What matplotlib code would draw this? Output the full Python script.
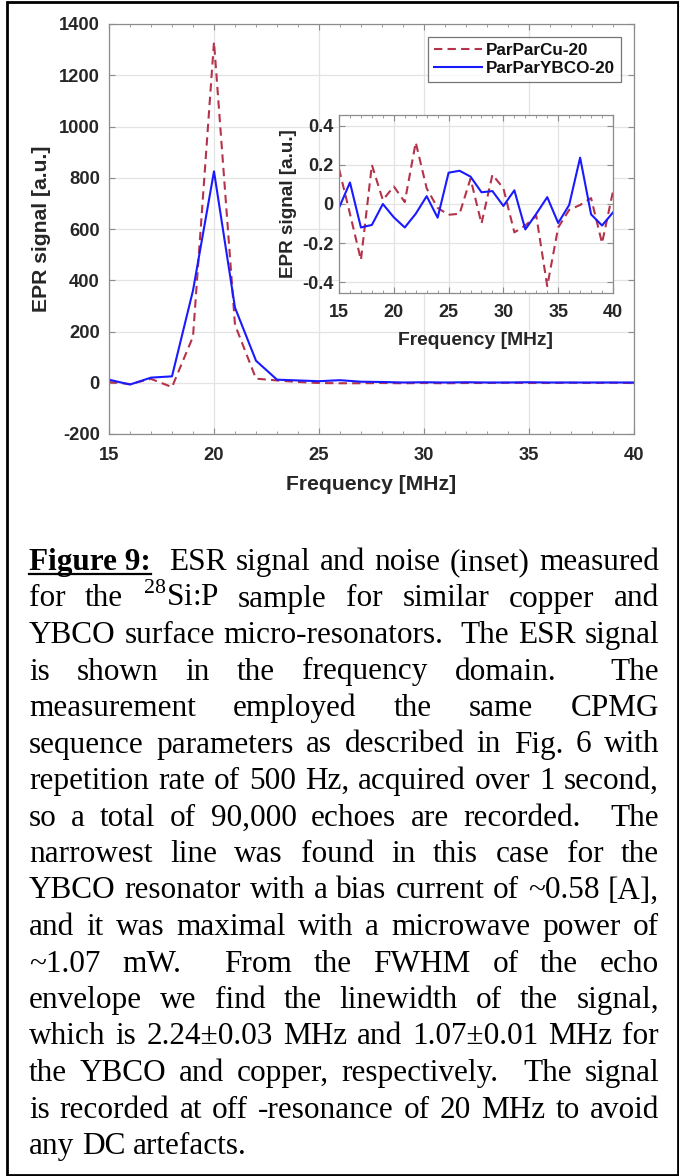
import matplotlib
matplotlib.use('Agg')
import matplotlib.pyplot as plt
import matplotlib.transforms as mtransforms
from matplotlib.lines import Line2D
from matplotlib.patches import Rectangle
from matplotlib.ticker import MultipleLocator
import numpy as np

plt.rcParams['font.family'] = ['Liberation Sans', 'DejaVu Sans']
plt.rcParams['axes.unicode_minus'] = False
plt.rcParams['mathtext.fontset'] = 'custom'
plt.rcParams['mathtext.rm'] = 'Liberation Serif'

# spectra (main panel)
freq = [15, 16, 17, 18, 19, 20, 21, 22, 23, 24, 25, 26, 27,
        28, 29, 30, 31, 32, 33, 34, 35, 36, 37, 38, 39, 40]
cu_signal = [3, -5, 15, -17, 180, 1330, 226, 16, 9, 3, -1, -2, -2,
             -1, -2, -1, -2, -1, -1, 0, -1, -1, 0, -1, 0, -1]
ybco_signal = [12, -7, 20, 25, 360, 825, 293, 86, 12, 9, 6, 10, 4,
               3, 1, 2, 1, 2, 1, 1, 2, 1, 1, 1, 1, 1]

# noise (inset)
cu_noise = [0.18, -0.05, -0.286, 0.20, 0.02, 0.09, 0.01, 0.315, 0.08, -0.02,
            -0.055, -0.05, 0.13, -0.10, 0.15, 0.08, -0.145, -0.11, -0.06, -0.42,
            -0.12, -0.03, -0.005, 0.03, -0.20, 0.065]
ybco_noise = [-0.02, 0.11, -0.12, -0.107, 0.0, -0.068, -0.12, -0.05, 0.04, -0.07,
              0.16, 0.17, 0.14, 0.06, 0.066, -0.01, 0.07, -0.13, -0.05, 0.035,
              -0.097, -0.005, 0.237, -0.053, -0.11, -0.043]

labels = ['ParParCu-20', 'ParParYBCO-20']

caption_head = 'Figure\u00a09:'
caption_lines = [
    caption_head + '  ESR signal and noise (inset) measured',
    'for the $^{\\mathrm{28}}$Si:P sample for similar copper and',
    'YBCO surface micro-resonators.  The ESR signal',
    'is shown in the frequency domain.  The',
    'measurement employed the same CPMG',
    'sequence parameters as described in Fig. 6 with',
    'repetition rate of 500 Hz, acquired over 1 second,',
    'so a total of 90,000 echoes are recorded.  The',
    'narrowest line was found in this case for the',
    'YBCO resonator with a bias current of ~0.58 [A],',
    'and it was maximal with a microwave power of',
    '~1.07 mW.  From the FWHM of the echo',
    'envelope we find the linewidth of the signal,',
    'which is 2.24\u00b10.03 MHz and 1.07\u00b10.01 MHz for',
    'the YBCO and copper, respectively.  The signal',
    'is recorded at off -resonance of 20 MHz to avoid',
    'any DC artefacts.',
]

W, H = 679, 1176
fig = plt.figure(figsize=(W / 100, H / 100), dpi=100)

cu_color = '#b5334a'
ybco_color = '#1a1aff'
spine_color = '#8c8c8c'
text_color = '#262626'
grid_color = '#e3e3e3'


def style_axes(ax, tick_size, xpad, ypad):
    for s in ax.spines.values():
        s.set_color(spine_color)
        s.set_linewidth(0.9)
    ax.xaxis.set_minor_locator(MultipleLocator(1))
    ax.tick_params(which='both', direction='in', top=True, right=True,
                   color=spine_color, labelcolor=text_color, labelsize=tick_size)
    ax.tick_params(which='major', length=4)
    ax.tick_params(which='minor', length=2.5)
    ax.tick_params(axis='x', pad=xpad)
    ax.tick_params(axis='y', pad=ypad)
    for lab in ax.get_xticklabels() + ax.get_yticklabels():
        lab.set_fontweight('bold')
    ax.grid(True, which='major', color=grid_color, lw=0.9)
    ax.set_axisbelow(True)


# main panel
ax = fig.add_axes([109 / W, 1 - 434 / H, 525 / W, 410 / H])
ax.plot(freq, cu_signal, color=cu_color, lw=1.5, ls=(0, (4, 2.5)), label=labels[0])
ax.plot(freq, ybco_signal, color=ybco_color, lw=1.5, label=labels[1])
ax.set_xlim(15, 40)
ax.set_ylim(-200, 1400)
ax.set_xticks([15, 20, 25, 30, 35, 40])
ax.set_yticks(np.arange(-200, 1401, 200))
style_axes(ax, 13.2, 9.5, 6.5)
ax.set_xlabel('Frequency [MHz]', fontsize=15.2, fontweight='bold', color=text_color, labelpad=8)
ax.set_ylabel('EPR signal [a.u.]', fontsize=15.2, fontweight='bold', color=text_color, labelpad=6)
leg = ax.legend(loc='upper right', fontsize=12.3, frameon=True, fancybox=False,
                handlelength=2.8, handletextpad=0.25, borderpad=0.35,
                labelspacing=0.2, borderaxespad=0.75)
leg.get_frame().set_edgecolor('#555555')
leg.get_frame().set_linewidth(0.9)
for t in leg.get_texts():
    t.set_fontweight('bold')
    t.set_color('#111111')

# inset with the noise
axi = fig.add_axes([339 / W, 1 - 293 / H, 274 / W, 178 / H])
axi.plot(freq, cu_noise, color=cu_color, lw=1.5, ls=(0, (4, 2.5)))
axi.plot(freq, ybco_noise, color=ybco_color, lw=1.5)
axi.set_xlim(15, 40)
axi.set_ylim(-0.455, 0.455)
axi.set_xticks([15, 20, 25, 30, 35, 40])
axi.set_yticks([-0.4, -0.2, 0, 0.2, 0.4])
axi.set_yticklabels(['-0.4', '-0.2', '0', '0.2', '0.4'])
style_axes(axi, 13.0, 8, 4)
axi.set_xlabel('Frequency [MHz]', fontsize=13.9, fontweight='bold', color=text_color, labelpad=8)
axi.set_ylabel('EPR signal [a.u.]', fontsize=13.6, fontweight='bold', color=text_color, labelpad=4)

# frame round the whole figure
fig.add_artist(Rectangle((7 / W, 1.5 / H), 670.5 / W, 1172.5 / H, transform=fig.transFigure,
                         fill=False, edgecolor='black', lw=2.0))

# justified caption
ident = mtransforms.IdentityTransform()
cap_size = 22.5
x_left, x_right = 29, 659
base0, line_step = 570, 36.5
fig.canvas.draw()
renderer = fig.canvas.get_renderer()
for i, line in enumerate(caption_lines):
    y = H - (base0 + i * line_step)
    tokens = line.split(' ')
    items = []
    for tok in tokens:
        if not tok:
            items.append((None, 0.0))
            continue
        bold = tok == caption_head
        t = fig.text(0, y, tok, transform=ident, fontsize=cap_size, va='baseline',
                     family=['Liberation Serif', 'DejaVu Serif'],
                     fontweight='bold' if bold else 'normal', color='black')
        items.append((t, t.get_window_extent(renderer).width))
    total = sum(w for _, w in items)
    if i == len(caption_lines) - 1:
        gap = cap_size * 100 / 72 * 0.25
    else:
        gap = (x_right - x_left - total) / (len(items) - 1)
    x = x_left
    for t, w in items:
        if t is not None:
            t.set_x(x)
            if t.get_text() == caption_head:
                fig.add_artist(Line2D([x, x + w], [y - 4, y - 4], transform=ident,
                                      color='black', lw=1.6))
        x += w + gap

fig.savefig('out.png', dpi=100)
